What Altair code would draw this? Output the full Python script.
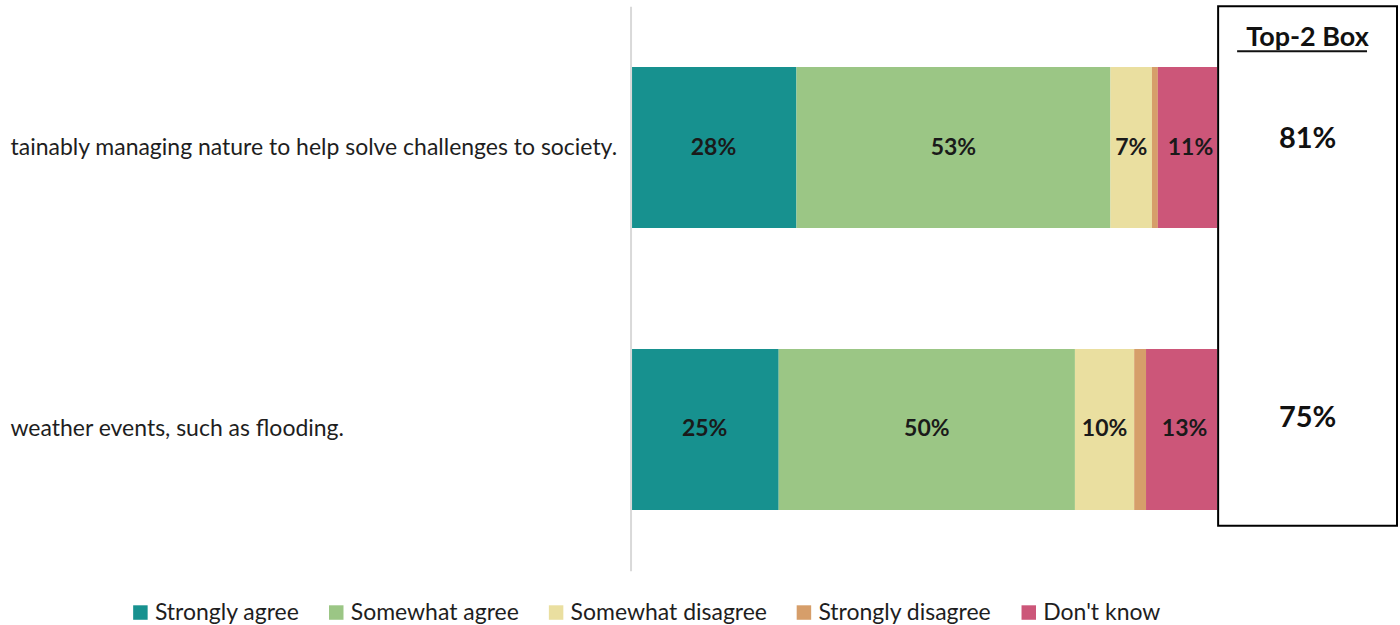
import altair as alt
import pandas as pd

statements = [
    "tainably managing nature to help solve challenges to society.",
    "weather events, such as flooding.",
]
categories = ["Strongly agree", "Somewhat agree", "Somewhat disagree", "Strongly disagree", "Don't know"]
colors = ["#17918f", "#9bc685", "#eadfa0", "#d69e6a", "#cc5679"]
row1 = [28, 53, 7, 1, 11]
row2 = [25, 50, 10, 2, 13]
top2_title = "Top-2 Box"
top2_values = [81, 75]

rows = []
for s, vals in zip(statements, [row1, row2]):
    for i, (c, v) in enumerate(zip(categories, vals)):
        rows.append({"statement": s, "category": c, "value": v, "order": i})
df = pd.DataFrame(rows)
top2 = pd.DataFrame({"statement": statements, "top2": top2_values})

FONT = "Lato"

base = alt.Chart(df).transform_stack(
    stack="value", groupby=["statement"], as_=["x0", "x1"],
    sort=[alt.SortField("order", order="ascending")],
).transform_calculate(mid="(datum.x0 + datum.x1) / 2", label="datum.value + '%'")

y_left = alt.Y(
    "statement:N", sort=statements, title=None,
    scale=alt.Scale(paddingInner=0.429, paddingOuter=0.216),
    axis=alt.Axis(labelAlign="left", labelPadding=621, labelLimit=800, ticks=False,
                  domainColor="#d9d9d9", domainWidth=2, labelFont=FONT,
                  labelFontSize=23, labelColor="#1e1e1e", grid=False),
)
# the bars run slightly past the visible area and are hidden by the Top-2 box
xs = alt.Scale(domain=[0, 99], nice=False)

bars = base.mark_rect(clip=True).encode(
    y=y_left,
    x=alt.X("x0:Q", scale=xs, axis=None),
    x2="x1:Q",
    color=alt.Color(
        "category:N", sort=categories,
        scale=alt.Scale(domain=categories, range=colors),
        legend=alt.Legend(orient="none", legendX=-502, legendY=595, direction="horizontal",
                          columns=5, title=None, symbolType="square", symbolSize=210,
                          symbolStrokeWidth=0, symbolOpacity=1, labelFont=FONT, labelFontSize=23,
                          labelColor="#1e1e1e", labelOffset=3, columnPadding=25, labelLimit=400),
    ),
)
texts = base.transform_filter("datum.value >= 5").mark_text(
    font=FONT, fontWeight="bold", fontSize=23, color="#1a1a1a"
).encode(y=alt.Y("statement:N", sort=statements), x=alt.X("mid:Q", scale=xs), text="label:N")

left = alt.layer(bars, texts).properties(width=587, height=565)

rbase = alt.Chart(top2).transform_calculate(label="datum.top2 + '%'")
rvals = rbase.mark_text(font=FONT, fontWeight="bold", fontSize=29, color="#111111").encode(
    y=alt.Y("statement:N", sort=statements, axis=None,
            scale=alt.Scale(type="point", padding=0.432, align=0.552)),
    x=alt.value(89.5),
    text="label:N",
)
rtitle = alt.Chart(pd.DataFrame({"t": [top2_title]})).mark_text(
    font=FONT, fontWeight="bold", fontSize=27, color="#111111"
).encode(text="t:N", x=alt.value(89.5), y=alt.value(32))
runder = alt.Chart(pd.DataFrame({"t": [top2_title]})).mark_rule(
    color="#111111", strokeWidth=2
).encode(x=alt.value(19), x2=alt.value(149), y=alt.value(45))

right = alt.layer(rvals, rtitle, runder).properties(
    width=179, height=520, view=alt.ViewBackground(stroke="black", strokeWidth=2)
)

chart = alt.hconcat(left, right, spacing=0).properties(
    padding={"left": 10, "top": 5, "right": 2, "bottom": 0},
    background="white",
).configure_view(stroke=None)

chart.save("out.html", embed_options={"renderer": "svg", "actions": False})
